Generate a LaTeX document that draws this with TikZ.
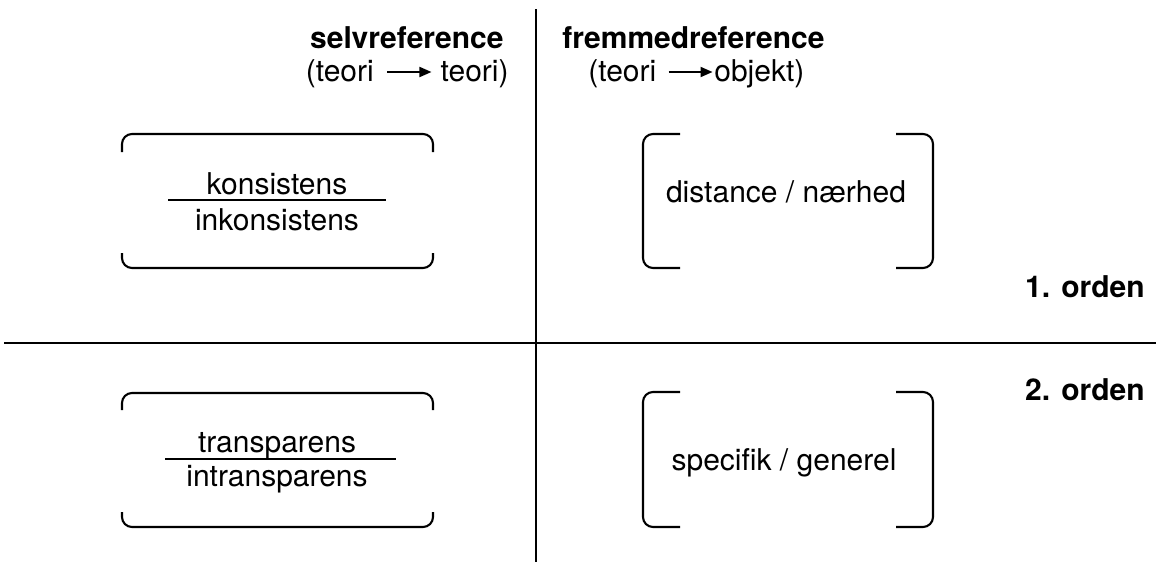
\documentclass[tikz,border=0pt]{standalone}
\usepackage{fontspec}
\setmainfont{TeX Gyre Heros}
\usetikzlibrary{arrows.meta}
\newcommand\myarr{\tikz[x=1pt,y=1pt,baseline=-4.5pt]\draw[line width=0.9pt,-{Triangle[length=6pt,width=5pt]}] (0,0)--(22pt,0);}
\tikzset{
  txt/.style={font=\fontsize{15}{18}\selectfont, inner sep=0pt, anchor=base},
  hdr/.style={txt, font=\fontsize{15}{18}\selectfont\bfseries},
  brk/.style={line width=1.05pt, rounded corners=5pt},
  axisline/.style={line width=1.3pt},
  frac/.style={line width=1pt}
}
\begin{document}
\begin{tikzpicture}[x=0.5pt,y=-0.5pt]
\useasboundingbox (0,0) rectangle (1156,562);
% axes
\coordinate (hl) at (4,343);
\coordinate (hr) at (1156,343);
\coordinate (vt) at (536,9);
\coordinate (vb) at (536,562);
\draw[axisline] (hl) -- (hr);
\draw[axisline] (vt) -- (vb);
% headers
\node[hdr, anchor=base east] (selv) at (504,48) {selvreference};
\node[txt, anchor=base east] (selvsub) at (509,81) {(teori\hspace{0.15em} \myarr\ teori)};
\node[hdr, anchor=base west] (fremmed) at (562,48) {fremmedreference};
\node[txt, anchor=base west] (fremmedsub) at (588,81) {(teori\hspace{0.1em} \myarr\hspace{0.03em}objekt)};
% order labels
\node[hdr, anchor=base east] (o1) at (1145,297) {1. orden};
\node[hdr, anchor=base east] (o2) at (1145,400) {2. orden};
% top-left
\draw[brk] (122,152) -- (122,134) -- (433,134) -- (433,152);
\draw[brk] (122,253) -- (122,268) -- (433,268) -- (433,253);
\node[txt] (kon) at (277,194) {konsistens};
\node[txt] (inkon) at (277,230) {inkonsistens};
\coordinate (k1) at (168,200);
\coordinate (k2) at (386,200);
\draw[frac] (k1) -- (k2);
% bottom-left
\draw[brk] (122,410) -- (122,393) -- (433,393) -- (433,410);
\draw[brk] (122,512) -- (122,527) -- (433,527) -- (433,512);
\node[txt] (tra) at (277,452) {transparens};
\node[txt] (intra) at (277,486) {intransparens};
\coordinate (t1) at (165,459);
\coordinate (t2) at (396,459);
\draw[frac] (t1) -- (t2);
% top-right
\draw[brk] (680,134) -- (643,134) -- (643,268) -- (680,268);
\draw[brk] (896,134) -- (933,134) -- (933,268) -- (896,268);
\node[txt] (dist) at (786,202) {distance / nærhed};
% bottom-right
\draw[brk] (680,392) -- (643,392) -- (643,527) -- (680,527);
\draw[brk] (896,392) -- (933,392) -- (933,527) -- (896,527);
\node[txt] (spec) at (784,470) {specifik / generel};
\end{tikzpicture}
\end{document}
